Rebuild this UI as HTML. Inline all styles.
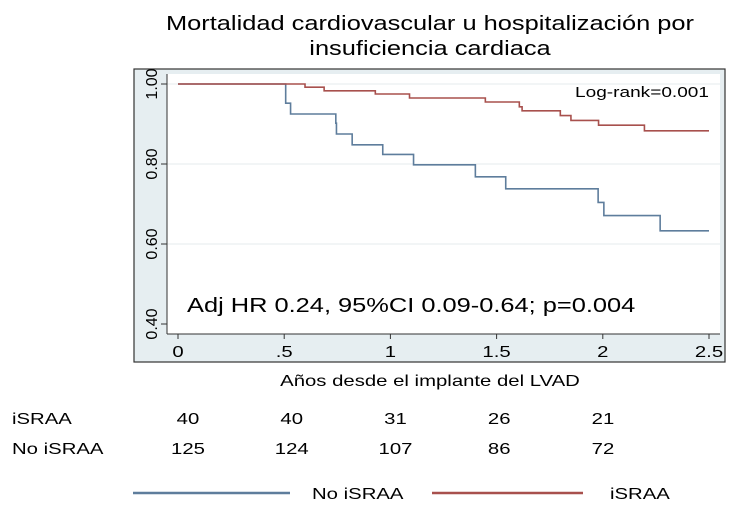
<!DOCTYPE html>
<html><head><meta charset="utf-8"><style>
body{margin:0;background:#fff;width:750px;height:505px;overflow:hidden;font-family:"Liberation Sans",sans-serif}
svg{display:block}
</style></head><body>
<svg id="chart" width="750" height="505" font-family="Liberation Sans, sans-serif">
<text class="w" x="430" y="30" font-size="20" text-anchor="middle">Mortalidad cardiovascular u hospitalización por</text>
<text class="w" x="430" y="55" font-size="20" text-anchor="middle">insuficiencia cardiaca</text>
<rect x="134" y="69" width="591" height="293" fill="#e6eef1" stroke="#333" stroke-width="1.2"/>
<rect x="167" y="74" width="553" height="260" fill="#fff"/>
<g id="grid"></g><g id="axes"></g><g id="series"></g>
<text class="w" x="709" y="97" font-size="15" text-anchor="end">Log-rank=0.001</text>
<text class="w" x="187" y="312" font-size="20">Adj HR 0.24, 95%CI 0.09-0.64; p=0.004</text>
<text class="w" x="430" y="386" font-size="16" text-anchor="middle">Años desde el implante del LVAD</text>
<text class="w" x="12" y="424" font-size="16">iSRAA</text>
<text class="w" x="12" y="454" font-size="16">No iSRAA</text>
<g id="risk"></g>
<line x1="133" y1="493" x2="290" y2="493" stroke="#5e7d9c" stroke-width="2.5"/>
<text class="w" x="312" y="499" font-size="16">No iSRAA</text>
<line x1="432" y1="493" x2="583" y2="493" stroke="#a8504d" stroke-width="2.5"/>
<text class="w" x="610" y="499" font-size="16">iSRAA</text>
</svg>
<script>
const xTicks=[0,0.5,1,1.5,2,2.5];
const xTickLabels=["0",".5","1","1.5","2","2.5"];
const yTicks=[0.4,0.6,0.8,1.0];
const yTickLabels=["0.40","0.60","0.80","1.00"];
const noTimes=[0,0.507,0.53,0.743,0.746,0.82,0.964,1.109,1.40,1.543,1.978,2.005,2.27];
const noSurv=[1,0.952,0.925,0.902,0.875,0.848,0.824,0.798,0.768,0.738,0.704,0.671,0.633];
const yesTimes=[0,0.598,0.688,0.929,1.09,1.447,1.607,1.62,1.80,1.85,1.98,2.196];
const yesSurv=[1,0.992,0.983,0.975,0.965,0.955,0.943,0.933,0.921,0.909,0.897,0.883];
const endTime=2.5;
const riskTimes=[0,0.5,1,1.5,2];
const riskIsraa=[40,40,31,26,21];
const riskNo=[125,124,107,86,72];
const X=t=>178+t*(709-178)/2.5;
const Y=v=>84+(1-v)*(324-84)/0.6;
const NS="http://www.w3.org/2000/svg";
function mk(tag,attrs,parent,txt){const e=document.createElementNS(NS,tag);for(const k in attrs)e.setAttribute(k,attrs[k]);if(txt!==undefined)e.textContent=txt;document.getElementById(parent).appendChild(e);return e;}
yTicks.forEach((v,i)=>{
  if(v>0.4){const g=mk('line',{x1:167,x2:720,y1:Y(v),y2:Y(v),stroke:'#e6ebee','stroke-width':1},'grid');
  
  }
  const t=mk('line',{x1:161,x2:167,y1:Y(v),y2:Y(v),stroke:'#333'},'axes');
  
  
  const l=mk('text',{x:0,y:0,'font-size':16,'text-anchor':'middle',transform:`translate(157,${Y(v)}) rotate(-90)`},'axes',yTickLabels[i]);
  
  
});
xTicks.forEach((v,i)=>{
  const t=mk('line',{x1:X(v),x2:X(v),y1:334,y2:339,stroke:'#333'},'axes');
  
  
  const l=mk('text',{x:X(v),y:357,'font-size':16,'text-anchor':'middle','class':'w'},'axes',xTickLabels[i]);
  
  
});
const ya=mk('line',{x1:167,x2:167,y1:74,y2:334,stroke:'#333'},'axes');


const xa=mk('line',{x1:167,x2:720,y1:334,y2:334,stroke:'#333'},'axes');


function step(ts,ss){let d=`M${X(ts[0])},${Y(ss[0])}`;for(let i=1;i<ts.length;i++){d+=` H${X(ts[i])} V${Y(ss[i])}`;}d+=` H${X(endTime)}`;return d;}
const p1=mk('path',{d:step(noTimes,noSurv),fill:'none',stroke:'#5e7d9c','stroke-width':1.6},'series');


const p2=mk('path',{d:step(yesTimes,yesSurv),fill:'none',stroke:'#a8504d','stroke-width':1.6},'series');


const rx=t=>188+t*(603-188)/2;
riskTimes.forEach((t,i)=>{
  const a=mk('text',{x:rx(t),y:424,'font-size':16,'text-anchor':'middle','class':'w'},'risk',riskIsraa[i]);
  
  
  const b=mk('text',{x:rx(t),y:454,'font-size':16,'text-anchor':'middle','class':'w'},'risk',riskNo[i]);
  
  
});
document.querySelectorAll('text.w').forEach(el=>{
  const w=el.getComputedTextLength();
  el.setAttribute('textLength',(w*1.27).toFixed(1));
  el.setAttribute('lengthAdjust','spacingAndGlyphs');
});
</script>
</body></html>
